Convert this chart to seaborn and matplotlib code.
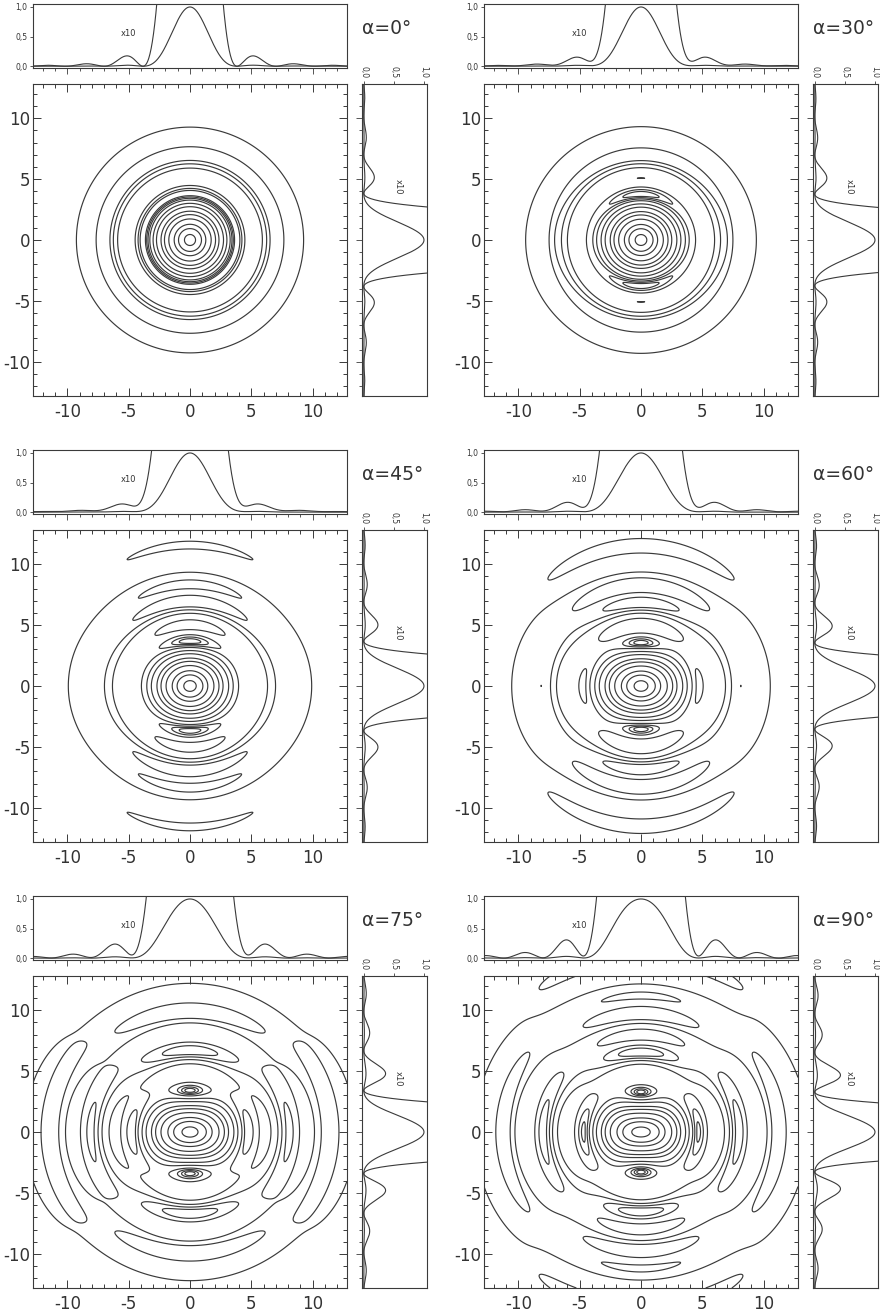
import numpy as np
import pandas as pd
import matplotlib
matplotlib.use("Agg")
import matplotlib.pyplot as plt
from matplotlib.ticker import MultipleLocator, FixedLocator, NullFormatter
import seaborn as sns

# Semi-aperture angles of the focusing system, one panel each
alpha_deg = [0, 30, 45, 60, 75, 90]
# Normalised intensity levels of the contour lines
contour_levels = [0.002, 0.005, 0.01, 0.02, 0.05, 0.1, 0.2, 0.3, 0.45, 0.65, 0.8, 0.95]
# Magnification of the second profile curve
profile_gain = 10
# Half-width of the focal-plane window (optical units)
half_width = 12.8
main_ticks = [-10, -5, 0, 5, 10]
profile_ticks = [0.0, 0.5, 1.0]
profile_ticklabels = ["0,0", "0,5", "1,0"]

sns.set_theme(style="ticks")
plt.rcParams["font.family"] = ["DejaVu Sans"]

INK = "#3a3a3a"

# ---- Bessel functions J0, J1, J2 from their integral representation ----
u_tab = np.linspace(0.0, 19.0, 3801)
tau = np.linspace(0.0, np.pi, 721)


def bessel_table(n):
    vals = np.cos(n * tau[None, :] - u_tab[:, None] * np.sin(tau[None, :]))
    return np.trapezoid(vals, tau, axis=1) / np.pi


J_tab = [bessel_table(n) for n in range(3)]


def debye_integrals(alpha, r):
    """Richards-Wolf integrals I0, I1, I2 for an aplanatic lens, in v = k r sin(alpha)."""
    a = max(np.radians(alpha), 2e-3)
    th = np.linspace(0.0, a, 500)
    s, c = np.sin(th), np.cos(th)
    apod = np.sqrt(np.clip(c, 0, None))
    arg = r[:, None] * s[None, :] / np.sin(a)
    J0 = np.interp(arg, u_tab, J_tab[0])
    J1 = np.interp(arg, u_tab, J_tab[1])
    J2 = np.interp(arg, u_tab, J_tab[2])
    I0 = np.trapezoid(apod * s * (1 + c) * J0, th, axis=1)
    I1 = np.trapezoid(apod * s * s * J1, th, axis=1)
    I2 = np.trapezoid(apod * s * (1 - c) * J2, th, axis=1)
    return I0, I1, I2


r_tab = np.linspace(0.0, half_width * np.sqrt(2) + 0.2, 1500)
grid = np.linspace(-half_width, half_width, 501)
X, Y = np.meshgrid(grid, grid)
R = np.hypot(X, Y)
PHI = np.arctan2(Y, X)
line = np.linspace(-half_width, half_width, 801)

# ---- figure layout (pixel geometry of one panel group) ----
W, H = 880, 1312
fig = plt.figure(figsize=(W / 100, H / 100), dpi=100)
col_x = [33, 484]
row_y = [84, 530, 976]
main_w, main_h = 314, 312
side_gap, side_w = 329, 65
top_gap, top_h = 80, 64


def add_axes_px(x, y, w, h):
    return fig.add_axes([x / W, 1 - (y + h) / H, w / W, h / H])


def style_spines(ax):
    for sp in ax.spines.values():
        sp.set_color(INK)
        sp.set_linewidth(0.8)
        sp.set_visible(True)


for k, alpha in enumerate(alpha_deg):
    cx = col_x[k % 2]
    ry = row_y[k // 2]

    I0, I1, I2 = debye_integrals(alpha, r_tab)
    i0 = np.interp(R, r_tab, I0)
    i1 = np.interp(R, r_tab, I1)
    i2 = np.interp(R, r_tab, I2)
    field = i0 ** 2 + i2 ** 2 + 2 * i0 * i2 * np.cos(2 * PHI) + 4 * i1 ** 2 * np.cos(PHI) ** 2
    norm = I0[0] ** 2
    field = field / norm

    l0 = np.interp(np.abs(line), r_tab, I0)
    l1 = np.interp(np.abs(line), r_tab, I1)
    l2 = np.interp(np.abs(line), r_tab, I2)
    cut_x = ((l0 + l2) ** 2 + 4 * l1 ** 2) / norm
    cut_y = (l0 - l2) ** 2 / norm
    prof = pd.DataFrame({"pos": line, "cut_x": cut_x, "cut_y": cut_y,
                         "cut_x10": profile_gain * cut_x, "cut_y10": profile_gain * cut_y})

    # main contour map
    ax = add_axes_px(cx, ry, main_w, main_h)
    ax.contour(X, Y, field, levels=contour_levels, colors=INK, linewidths=0.85)
    ax.set_xlim(-half_width, half_width)
    ax.set_ylim(-half_width, half_width)
    style_spines(ax)
    ax.xaxis.set_major_locator(FixedLocator(main_ticks))
    ax.yaxis.set_major_locator(FixedLocator(main_ticks))
    ax.xaxis.set_minor_locator(MultipleLocator(1))
    ax.yaxis.set_minor_locator(MultipleLocator(1))
    ax.tick_params(which="both", direction="in", top=True, right=True, color=INK, width=0.7)
    ax.tick_params(which="major", length=6, labelsize=12, labelcolor="#333333")
    ax.tick_params(which="minor", length=3)
    ax.tick_params(axis="x", which="major", pad=5)
    ax.tick_params(axis="y", which="major", pad=2)
    ax.set_xticklabels([str(t) for t in main_ticks])
    ax.set_yticklabels([str(t) for t in main_ticks])
    ax.set_xlabel("")
    ax.set_ylabel("")

    # horizontal profile above
    axt = add_axes_px(cx, ry - top_gap, main_w, top_h)
    sns.lineplot(data=prof, x="pos", y="cut_x", ax=axt, color=INK, linewidth=0.8,
                 estimator=None, sort=False)
    sns.lineplot(data=prof, x="pos", y="cut_x10", ax=axt, color=INK, linewidth=0.8,
                 estimator=None, sort=False)
    axt.set_xlim(-half_width, half_width)
    axt.set_ylim(-0.03, 1.05)
    style_spines(axt)
    axt.xaxis.set_major_locator(FixedLocator(main_ticks))
    axt.xaxis.set_minor_locator(MultipleLocator(1))
    axt.xaxis.set_major_formatter(NullFormatter())
    axt.yaxis.set_major_locator(FixedLocator(profile_ticks))
    axt.set_yticklabels(profile_ticklabels)
    axt.tick_params(axis="x", which="both", direction="out", color=INK, width=0.6)
    axt.tick_params(axis="x", which="major", length=4)
    axt.tick_params(axis="x", which="minor", length=2.5)
    axt.tick_params(axis="y", which="major", direction="out", length=2.5, width=0.6,
                    color=INK, labelsize=5.5, labelcolor="#333333", pad=1.5)
    axt.set_xlabel("")
    axt.set_ylabel("")
    axt.text(-5.0, 0.55, "x10", fontsize=6, color="#333333", ha="center", va="center")

    # vertical profile on the right
    axr = add_axes_px(cx + side_gap, ry, side_w, main_h)
    sns.lineplot(data=prof, x="cut_y", y="pos", ax=axr, color=INK, linewidth=0.8,
                 estimator=None, sort=False, orient="y")
    sns.lineplot(data=prof, x="cut_y10", y="pos", ax=axr, color=INK, linewidth=0.8,
                 estimator=None, sort=False, orient="y")
    axr.set_ylim(-half_width, half_width)
    axr.set_xlim(-0.03, 1.05)
    style_spines(axr)
    axr.yaxis.set_major_locator(FixedLocator(main_ticks))
    axr.yaxis.set_minor_locator(MultipleLocator(1))
    axr.yaxis.set_major_formatter(NullFormatter())
    axr.tick_params(axis="y", which="both", direction="out", color=INK, width=0.6)
    axr.tick_params(axis="y", which="major", length=4)
    axr.tick_params(axis="y", which="minor", length=2.5)
    axr.xaxis.set_major_locator(FixedLocator(profile_ticks))
    axr.set_xticklabels(profile_ticklabels, rotation=-90)
    axr.tick_params(axis="x", which="major", direction="out", length=2.5, width=0.6,
                    color=INK, labelsize=5.5, labelcolor="#333333", pad=1.5,
                    top=True, bottom=False, labeltop=True, labelbottom=False)
    axr.set_xlabel("")
    axr.set_ylabel("")
    axr.text(0.58, 4.4, "x10", fontsize=6, color="#333333", rotation=-90,
             ha="center", va="center")

    # angle label
    fig.text((cx + 329) / W, 1 - (ry - 56) / H, f"α={alpha}°", fontsize=13.5,
             color="#333333", ha="left", va="center")

fig.savefig("out.png", dpi=100, facecolor="white")
